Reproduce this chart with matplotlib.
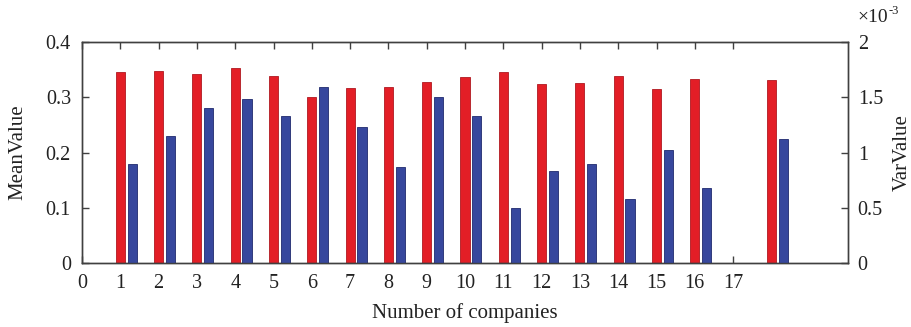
import matplotlib
matplotlib.use("Agg")
import matplotlib.pyplot as plt
import numpy as np

plt.rcParams['font.family'] = ['Liberation Serif', 'DejaVu Serif']

companies = [1, 2, 3, 4, 5, 6, 7, 8, 9, 10, 11, 12, 13, 14, 15, 16, 18]
mean_values = [0.346, 0.348, 0.342, 0.353, 0.338, 0.300, 0.317, 0.319, 0.327,
               0.337, 0.345, 0.324, 0.326, 0.339, 0.315, 0.333, 0.332]
var_values_e3 = [0.90, 1.15, 1.40, 1.48, 1.33, 1.59, 1.23, 0.87, 1.50,
                 1.33, 0.50, 0.83, 0.90, 0.58, 1.02, 0.68, 1.12]
x_ticks = list(range(0, 18))
left_ticks = [0, 0.1, 0.2, 0.3, 0.4]
left_ticklabels = ['0', '0.1', '0.2', '0.3', '0.4']
right_ticks = [0, 0.5, 1, 1.5, 2]
right_ticklabels = ['0', '0.5', '1', '1.5', '2']

red = '#E31E26'
blue = '#37479D'
axc = '#404040'
tc = '#222222'
fs_tick = 14.5
fs_lab = 15

W, H = 912, 327
fig = plt.figure(figsize=(W / 100, H / 100), dpi=100)
ax = fig.add_axes([82 / W, 1 - 263 / H, 766 / W, 221 / H])
ax2 = ax.twinx()

x = np.array(companies, dtype=float)
w = 0.24
ax.bar(x, mean_values, width=w, color=red, edgecolor='#B01820', linewidth=0.6, zorder=2)
ax2.bar(x + 0.31, var_values_e3, width=w, color=blue, edgecolor='#1F2A6E', linewidth=0.6, zorder=2)

ax.set_xlim(0, 20)
ax.set_ylim(0, 0.4)
ax2.set_ylim(0, 2)
ax.set_xticks(x_ticks)
ax.set_xticklabels([str(t) for t in x_ticks])
ax.set_yticks(left_ticks)
ax.set_yticklabels(left_ticklabels)
ax2.set_yticks(right_ticks)
ax2.set_yticklabels(right_ticklabels)

for a in (ax, ax2):
    for s in a.spines.values():
        s.set_color(axc)
        s.set_linewidth(1.0)
    a.tick_params(direction='in', length=5, width=1.0, color=axc,
                  labelsize=fs_tick, labelcolor=tc)
ax.tick_params(axis='x', top=True, bottom=True, pad=8)
ax.tick_params(axis='y', pad=8)
ax2.tick_params(axis='y', pad=7)

ax.set_xlabel('Number of companies', fontsize=fs_lab, color=tc)
ax.xaxis.set_label_coords(0.5, -(313 - 263) / 221)
ax.xaxis.label.set_va('center')
ax.set_ylabel('MeanValue', fontsize=fs_lab, color=tc)
ax.yaxis.set_label_coords((18 - 82) / 766, 0.5)
ax.yaxis.label.set_va('center')
ax2.set_ylabel('VarValue', fontsize=fs_lab, color=tc)
ax2.yaxis.set_label_coords((902 - 82) / 766, 0.5)
ax2.yaxis.label.set_va('center')

fig.text(857 / W, 1 - 22 / H, '\u00d710', fontsize=14, color=tc, ha='left', va='baseline')
fig.text(889 / W, 1 - 14 / H, '-3', fontsize=9, color=tc, ha='left', va='baseline')

fig.savefig('out.png', dpi=100)
